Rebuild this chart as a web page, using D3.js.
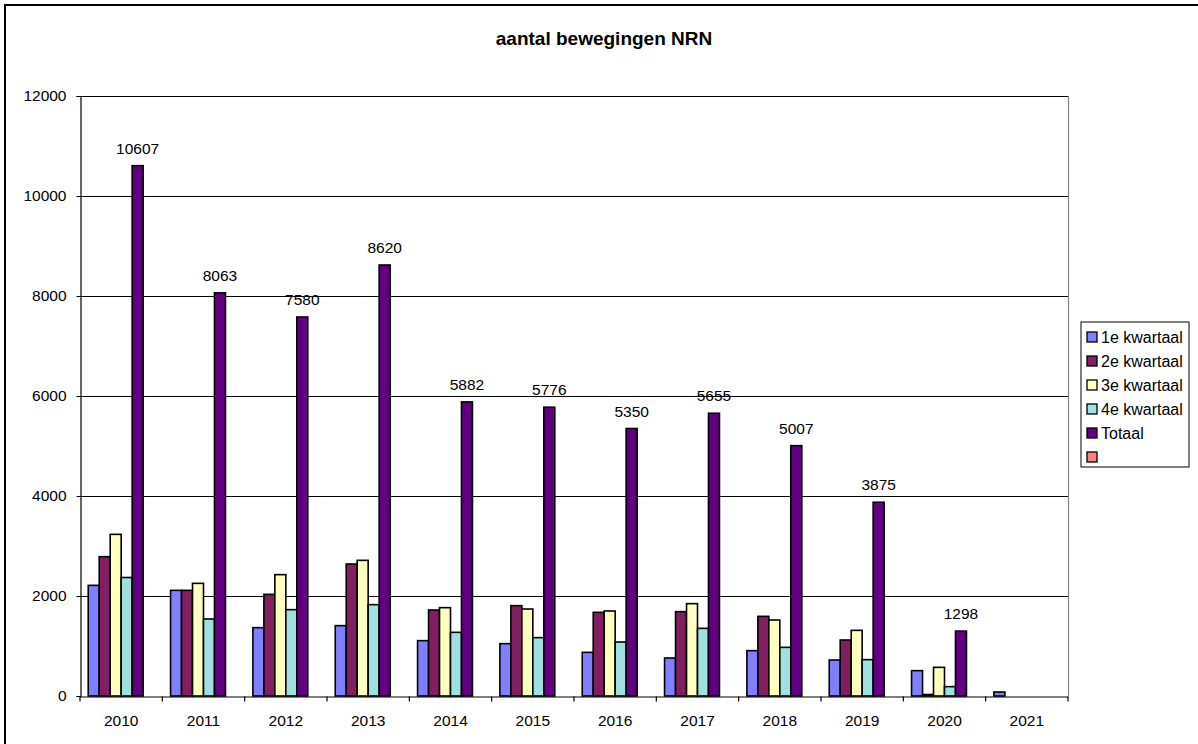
<!DOCTYPE html>
<html><head><meta charset="utf-8">
<script src="https://cdn.jsdelivr.net/npm/d3@7"></script>
<style>body{margin:0;background:#fff}svg{display:block;font-family:"Liberation Sans",Arial,sans-serif}</style>
</head><body>
<svg id="c" width="1198" height="744"></svg>
<script>
const title = "aantal bewegingen NRN";
const years = ["2010","2011","2012","2013","2014","2015","2016","2017","2018","2019","2020","2021"];
const seriesNames = ["1e kwartaal","2e kwartaal","3e kwartaal","4e kwartaal","Totaal",""];
const q1 = [2213,2113,1367,1407,1107,1047,873,760,907,720,507,80];
const q2 = [2787,2113,2033,2640,1720,1807,1673,1687,1593,1120,30,null];
const q3 = [3233,2253,2427,2713,1767,1740,1700,1847,1520,1313,573,null];
const q4 = [2370,1540,1727,1827,1273,1167,1080,1353,973,727,187,null];
const totaal = [10607,8063,7580,8620,5882,5776,5350,5655,5007,3875,1298,null];
const extra = [null,null,null,null,null,null,null,null,null,null,null,null];
const yTicks = [0,2000,4000,6000,8000,10000,12000];
const colors = ["#8080ff","#802060","#ffffc0","#a0e0e0","#600080","#ff8080"];

const allSeries = [q1,q2,q3,q4,totaal,extra];
const svg = d3.select("#c");

svg.append("rect").attr("x",5).attr("y",5).attr("width",1300).attr("height",1000)
  .attr("fill","none").attr("stroke","#000").attr("stroke-width",2);

const L=80, R=1068, T=96, B=696;
const x = d3.scaleBand().domain(years).range([L,R]).padding(0);
const bw = x.bandwidth();
const xs = d3.scaleBand().domain(d3.range(6)).range([bw*0.1, bw*0.9]).padding(0);
const y = d3.scaleLinear().domain([0,12000]).range([B,T]);

svg.append("text").attr("x",(L+R)/2+30).attr("y",45).attr("text-anchor","middle")
  .attr("font-weight","bold").attr("font-size",19).text(title);

svg.append("g").selectAll("line").data(yTicks.filter(d=>d>0)).join("line")
  .attr("x1",L).attr("x2",R).attr("y1",d=>y(d)+0.5).attr("y2",d=>y(d)+0.5)
  .attr("stroke","#000").attr("stroke-width",1);
svg.append("line").attr("x1",R+0.5).attr("x2",R+0.5).attr("y1",T).attr("y2",B)
  .attr("stroke","#808080").attr("stroke-width",1.2);

const g = svg.append("g");
allSeries.forEach((arr,si)=>{
  g.append("g").selectAll("rect").data(arr.map((v,i)=>({v,i})).filter(d=>d.v!=null&&d.v>0)).join("rect")
    .attr("x",d=>x(years[d.i])+xs(si))
    .attr("width",xs.bandwidth())
    .attr("y",d=>y(d.v))
    .attr("height",d=>y(0)-y(d.v))
    .attr("fill",colors[si]).attr("stroke","#000").attr("stroke-width",1.6);
});

svg.append("g").selectAll("text").data(totaal.map((v,i)=>({v,i})).filter(d=>d.v!=null)).join("text")
  .attr("x",d=>x(years[d.i])+xs(4)+xs.bandwidth()/2)
  .attr("y",d=>y(d.v)-12)
  .attr("text-anchor","middle").attr("font-size",15.5).text(d=>d.v);

const yAxis = d3.axisLeft(y).tickValues(yTicks).tickSize(4).tickPadding(10).tickFormat(d=>d);
const ya = svg.append("g").attr("transform",`translate(${L+0.5},0)`).call(yAxis);
ya.selectAll("text").attr("font-size",15.5).attr("font-family","Liberation Sans, Arial, sans-serif").attr("fill","#000");
ya.select(".domain").attr("stroke","#000").attr("stroke-width",1.2);

const xAxis = d3.axisBottom(x).tickSize(0).tickPadding(18);
const xa = svg.append("g").attr("transform",`translate(0,${B+0.5})`).call(xAxis);
xa.selectAll("text").attr("font-size",15.5).attr("font-family","Liberation Sans, Arial, sans-serif").attr("fill","#000");
xa.select(".domain").attr("stroke","#000").attr("stroke-width",1.2);
xa.append("g").selectAll("line").data(years.concat(["end"])).join("line")
  .attr("x1",(d,i)=>L+i*bw).attr("x2",(d,i)=>L+i*bw).attr("y1",0).attr("y2",5)
  .attr("stroke","#000").attr("stroke-width",1.2);

const lg = svg.append("g");
lg.append("rect").attr("x",1081).attr("y",322).attr("width",108).attr("height",145)
  .attr("fill","#fff").attr("stroke","#000").attr("stroke-width",1);
seriesNames.forEach((n,i)=>{
  const cy = 337 + i*24;
  lg.append("rect").attr("x",1087).attr("y",cy-5).attr("width",10).attr("height",10)
    .attr("fill",colors[i]).attr("stroke","#000").attr("stroke-width",1.3);
  lg.append("text").attr("x",1101).attr("y",cy+5.5).attr("font-size",16).text(n);
});
</script>
</body></html>
